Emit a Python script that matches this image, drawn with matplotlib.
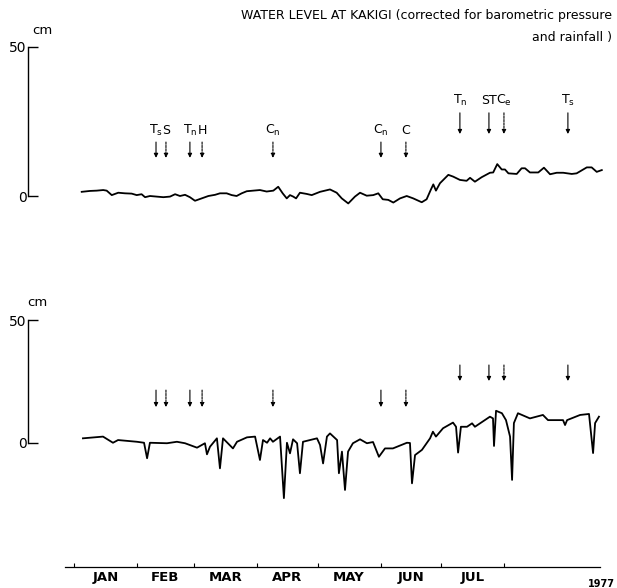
import matplotlib
matplotlib.use("Agg")
import matplotlib.pyplot as plt

# ---- data (day of 1977, water level in cm) ----
top_days = [3.8, 7.9, 11.2, 14.4, 16.1, 18.6, 21.8, 25.1, 28.4, 30.9, 33.3, 35.0, 37.4, 40.7, 44.0,
            47.3, 49.8, 52.2, 54.7, 57.1, 59.6, 62.9, 66.2, 69.5, 71.9, 75.2, 77.7, 80.1, 82.6, 85.1,
            88.3, 91.6, 94.9, 98.2, 100.6, 102.8, 104.8, 106.4, 108.0, 109.4, 111.3, 114.6, 117.1,
            121.2, 126.1, 129.4, 131.9, 135.1, 138.4, 140.9, 144.2, 147.4, 149.9, 152.1, 154.8,
            157.3, 160.6, 163.9, 167.1, 171.3, 173.7, 175.7, 177.0, 178.3, 180.3, 184.4, 186.8,
            190.1, 193.4, 195.1, 197.5, 200.8, 204.9, 206.5, 208.5, 210.7, 212.3, 214.0, 218.1,
            220.5, 222.2, 224.6, 228.7, 231.5, 234.5, 237.8, 241.0, 245.2, 247.6, 252.6, 255.0,
            257.5, 260.0]
top_cm = [1.4, 1.7, 1.8, 2.0, 1.8, 0.3, 1.1, 0.9, 0.8, 0.3, 0.6, -0.4, 0.0, -0.2, -0.4,
          -0.2, 0.6, 0.0, 0.4, -0.4, -1.6, -0.8, 0.0, 0.4, 0.9, 0.9, 0.3, 0.0, 0.9, 1.6,
          1.8, 2.0, 1.5, 1.8, 3.1, 0.9, -0.8, 0.3, -0.2, -0.8, 1.1, 0.7, 0.3,
          1.4, 2.2, 1.1, -0.8, -2.5, -0.2, 1.1, 0.1, 0.3, 0.9, -1.1, -1.3,
          -2.2, -0.8, 0.0, -0.8, -2.1, -1.1, 2.0, 3.9, 1.8, 4.3, 7.1, 6.5,
          5.4, 5.1, 6.1, 4.8, 6.3, 7.8, 7.9, 10.7, 8.9, 8.9, 7.6, 7.4,
          9.3, 9.3, 7.9, 7.9, 9.5, 7.3, 7.8, 7.8, 7.4, 7.6, 9.6, 9.6,
          8.1, 8.7]

raw_days = [4.4, 14.3, 19.2, 21.7, 31.0, 34.5, 36.0, 37.4, 45.8, 50.7, 54.7, 60.6, 64.5, 65.5,
            67.0, 70.4, 71.9, 73.4, 78.3, 80.3, 85.2, 89.2, 91.6, 93.1, 95.1, 96.6, 98.0, 101.5,
            103.4, 104.9, 106.4, 107.9, 109.9, 111.3, 112.8, 119.7, 121.2, 122.7, 124.6, 126.1,
            129.6, 130.5, 132.0, 133.5, 135.0, 137.4, 140.9, 144.3, 147.3, 150.2, 153.2, 157.1,
            164.0, 165.5, 166.5, 168.0, 171.4, 175.4, 176.8, 178.3, 181.8, 186.7, 188.2, 189.2,
            190.6, 193.6, 196.1, 197.5, 204.9, 206.4, 206.9, 207.9, 210.8, 212.8, 214.8, 215.8,
            216.7, 218.7, 224.6, 231.0, 233.5, 240.9, 241.9, 242.9, 249.3, 253.7, 255.7, 256.7,
            258.6]
raw_cm = [1.9, 2.6, 0.1, 1.2, 0.5, 0.1, -6.2, 0.1, -0.1, 0.5, -0.1, -1.9, -0.1, -4.6,
          -1.5, 1.9, -10.3, 1.9, -2.2, 0.5, 2.3, 2.6, -6.9, 1.2, 0.1, 1.9, 0.5, 2.6,
          -22.4, 0.1, -4.2, 1.5, -0.1, -12.3, 0.5, 1.9, -0.8, -8.3, 2.6, 3.9,
          1.2, -12.3, -3.5, -19.1, -3.5, -0.1, 1.5, -0.1, 0.4, -5.6, -2.2, -2.2,
          0.1, 0.0, -16.4, -4.9, -2.8, 1.9, 4.6, 2.6, 6.0, 8.3, 6.6, -3.9,
          6.6, 6.6, 8.0, 6.6, 10.7, 10.0, -1.2, 13.1, 12.1, 9.3, 2.6, -15.0,
          8.1, 12.1, 10.0, 11.4, 9.3, 9.3, 7.3, 9.3, 11.4, 11.8, -4.1, 8.1,
          10.7]

# events marked with arrows
event_days = [40.4, 45.3, 57.1, 63.1, 98.0, 151.2, 163.5, 190.1, 204.4, 211.8, 243.3]
event_labels = [r"T$_\mathregular{s}$", "S", r"T$_\mathregular{n}$", "H", r"C$_\mathregular{n}$",
                r"C$_\mathregular{n}$", "C", r"T$_\mathregular{n}$", "ST", r"C$_\mathregular{e}$",
                r"T$_\mathregular{s}$"]
event_dashed = [False, True, False, True, True, False, True, False, False, True, False]
event_high = [False] * 7 + [True] * 4

month_names = ["JAN", "FEB", "MAR", "APR", "MAY", "JUN", "JUL"]
month_starts = [0, 31, 59, 90, 120, 151, 181, 212]

# ---- layout helpers (pixel geometry of the 617x588 picture) ----
W, H = 617, 588
X0, XS = 74, 2.03          # px of Jan 1, px per day


def day_at(px):
    return (px - X0) / XS


def rect(left, top, right, bottom):
    return [left / W, 1 - bottom / H, (right - left) / W, (bottom - top) / H]


plt.rcParams['font.family'] = ['DejaVu Sans']
fig = plt.figure(figsize=(W / 100, H / 100), dpi=100)

ax1 = fig.add_axes(rect(28, 40, 617, 230))
ax2 = fig.add_axes(rect(28, 290, 617, 567))

# top: corrected record, bottom: raw record
ax1.plot(top_days, top_cm, color='black', lw=1.3)
ax2.plot(raw_days, raw_cm, color='black', lw=1.3)

ax1.set_ylim((196 - 230) / 2.98, (196 - 40) / 2.98)
ax2.set_ylim((443 - 567) / 2.46, (443 - 290) / 2.46)

for ax in (ax1, ax2):
    ax.set_xlim(day_at(28), day_at(617))
    ax.patch.set_alpha(0)
    for s in ('top', 'right'):
        ax.spines[s].set_visible(False)
    ax.spines['left'].set_bounds(0, 50)
    ax.spines['left'].set_linewidth(1.0)
    ax.set_yticks([0, 50])
    ax.tick_params(axis='y', direction='in', length=7, width=1.0, pad=1, labelsize=10)

ax1.spines['bottom'].set_visible(False)
ax1.set_xticks([])

# bottom time axis
ax2.spines['bottom'].set_bounds(day_at(65), day_at(600))
ax2.spines['bottom'].set_linewidth(0.9)
ax2.set_xticks(month_starts)
ax2.set_xticklabels([])
ax2.set_xticks([(a + b) / 2 for a, b in zip(month_starts[:-1], month_starts[1:])], minor=True)
ax2.set_xticklabels(month_names, minor=True, fontweight='bold', fontsize=9.5)
ax2.tick_params(axis='x', which='major', direction='in', length=3, width=0.8)
ax2.tick_params(axis='x', which='minor', length=0, pad=3)

# arrows
for d, lab, dashed, high in zip(event_days, event_labels, event_dashed, event_high):
    ls = (0, (2, 1)) if dashed else '-'
    if high:
        y_lab, y0, y1 = 32.2, 27.9, 20.8
        b0, b1 = 31.7, 25.2
    else:
        y_lab, y0, y1 = 22.1, 18.1, 12.8
        b0, b1 = 21.5, 14.6
    ax1.annotate('', xy=(d, y1), xytext=(d, y0),
                 arrowprops=dict(arrowstyle='-|>', color='black', lw=0.8, ls=ls,
                                 mutation_scale=6, shrinkA=0, shrinkB=0))
    ax1.text(d, y_lab, lab, ha='center', va='center', fontsize=9)
    ax2.annotate('', xy=(d, b1), xytext=(d, b0),
                 arrowprops=dict(arrowstyle='-|>', color='black', lw=0.8, ls=ls,
                                 mutation_scale=6, shrinkA=0, shrinkB=0))

# texts
fig.text(612 / W, 1 - 15 / H, "WATER LEVEL AT KAKIGI (corrected for barometric pressure",
         ha='right', va='center', fontsize=9)
fig.text(612 / W, 1 - 37 / H, "and rainfall )", ha='right', va='center', fontsize=9)
fig.text(42 / W, 1 - 31 / H, "cm", ha='center', va='center', fontsize=9.5)
fig.text(37 / W, 1 - 302 / H, "cm", ha='center', va='center', fontsize=9.5)
fig.text(615 / W, 1 - 584 / H, "1977", ha='right', va='center', fontsize=7, fontweight='bold')

fig.savefig("out.png", dpi=100)
